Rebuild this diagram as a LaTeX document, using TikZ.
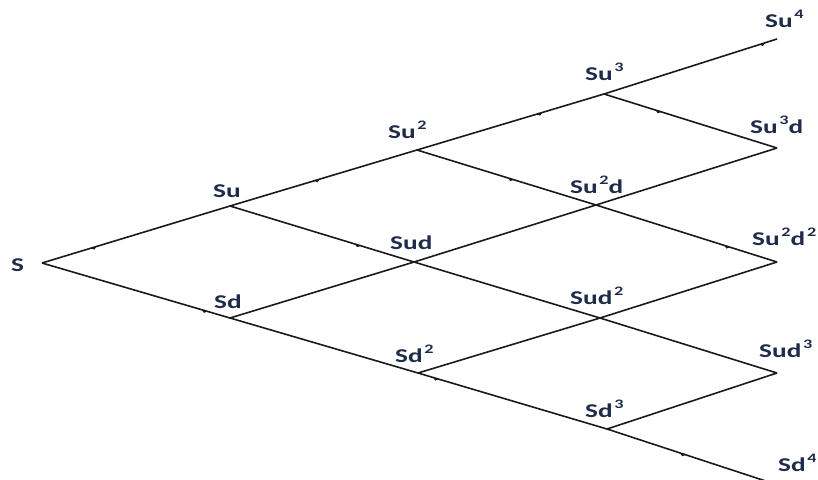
\documentclass[tikz,border=0pt]{standalone}
\usepackage{fontspec}
\usepackage{graphicx}
\setmainfont{Carlito}
\usetikzlibrary{decorations.markings}
\definecolor{labelink}{HTML}{1F2B4A}
\definecolor{edgeink}{HTML}{1A1A1A}
\newcommand{\wlab}[1]{\scalebox{1.4}[1]{#1}}
\newcommand{\pw}[1]{\hspace{1.2pt}\raisebox{0.42em}{\fontsize{13}{13}\selectfont #1}}
\tikzset{
  edge/.style={draw=edgeink, line width=1.6pt},
  tick/.style={postaction={decorate,decoration={markings,
      mark=at position #1 with {\fill[edgeink] (-4,0) -- (2,0) -- (-1,2.4) -- cycle;}}}},
  lab/.style={text=labelink, inner sep=0pt, font=\fontsize{19.5}{19.5}\selectfont\bfseries, anchor=base west},
}
\begin{document}
\begin{tikzpicture}[x=1pt, y=-1pt]
  \useasboundingbox (0,0) rectangle (818,479);
  \clip (0,0) rectangle (818,479);
  % lattice points
  \coordinate (n00) at (42,263);
  \coordinate (n11) at (230,206);
  \coordinate (n10) at (230,318);
  \coordinate (n22) at (417,150);
  \coordinate (n21) at (414,262);
  \coordinate (n20) at (418,373);
  \coordinate (n33) at (604,94);
  \coordinate (n32) at (596,205);
  \coordinate (n31) at (600,318);
  \coordinate (n30) at (607,429);
  \coordinate (n44) at (777,39);
  \coordinate (n43) at (777,148);
  \coordinate (n42) at (777,262);
  \coordinate (n41) at (777,373);
  \coordinate (n40) at (790,489);
  % up moves
  \draw[edge, tick=0.28] (n00) -- (n11);
  \draw[edge, tick=0.47] (n11) -- (n22);
  \draw[edge, tick=0.66] (n22) -- (n33);
  \draw[edge, tick=0.92] (n33) -- (n44);
  \draw[edge] (n10) -- (n21);
  \draw[edge] (n21) -- (n32);
  \draw[edge] (n32) -- (n43);
  \draw[edge] (n20) -- (n31);
  \draw[edge] (n31) -- (n42);
  \draw[edge] (n30) -- (n41);
  % down moves
  \draw[edge, tick=0.87] (n00) -- (n10);
  \draw[edge, tick=0.70] (n11) -- (n21);
  \draw[edge, tick=0.53] (n22) -- (n32);
  \draw[edge, tick=0.32] (n33) -- (n43);
  \draw[edge] (n10) -- (n20);
  \draw[edge] (n21) -- (n31);
  \draw[edge, tick=0.73] (n32) -- (n42);
  \draw[edge, tick=0.10] (n20) -- (n30);
  \draw[edge] (n31) -- (n41);
  \draw[edge, tick=0.42] (n30) -- (n40);
  % price labels
  \node[lab] (lS)    at (11,271)  {\wlab{S}};
  \node[lab] (lSu)   at (213,197) {\wlab{Su}};
  \node[lab] (lSd)   at (214,308) {\wlab{Sd}};
  \node[lab] (lSu2)  at (388,138) {\wlab{Su\pw{2}}};
  \node[lab] (lSud)  at (390,249) {\wlab{Sud}};
  \node[lab] (lSd2)  at (395,362) {\wlab{Sd\pw{2}}};
  \node[lab] (lSu3)  at (585,80)  {\wlab{Su\pw{3}}};
  \node[lab] (lSu2d) at (570,193) {\wlab{Su\pw{2}d}};
  \node[lab] (lSud2) at (570,304) {\wlab{Sud\pw{2}}};
  \node[lab] (lSd3)  at (585,417) {\wlab{Sd\pw{3}}};
  \node[lab] (lSu4)  at (765,27)  {\wlab{Su\pw{4}}};
  \node[lab] (lSu3d) at (750,133) {\wlab{Su\pw{3}d}};
  \node[lab] (lSu2d2) at (752,245) {\wlab{Su\pw{2}d\pw{2}}};
  \node[lab] (lSud3) at (759,357) {\wlab{Sud\pw{3}}};
  \node[lab] (lSd4)  at (778,471) {\wlab{Sd\pw{4}}};
\end{tikzpicture}
\end{document}
